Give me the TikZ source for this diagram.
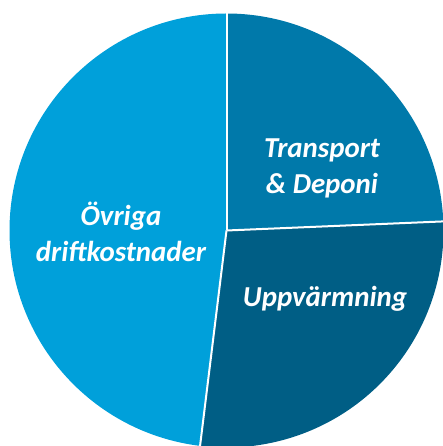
\documentclass[tikz,border=0pt]{standalone}
\usepackage{fontspec}
\setmainfont{Carlito}
\definecolor{cOvr}{RGB}{0,160,218}
\definecolor{cTra}{RGB}{0,121,170}
\definecolor{cUpp}{RGB}{0,94,133}
\tikzset{
  slice/.style={draw=white, line width=2bp, line join=round},
  lbl/.style={text=white, font=\fontsize{29}{36}\selectfont\bfseries\itshape, align=center, inner sep=0pt}
}
\begin{document}
\begin{tikzpicture}[x=1bp,y=1bp]
\useasboundingbox (0,0) rectangle (443,446);
\clip (0,0) rectangle (443,446);
\coordinate (c) at (226.5,215.5);
\def\R{217}
\fill[cOvr] (c) -- ++(90:\R) arc[start angle=90, end angle=263, radius=\R] -- cycle;
\fill[cTra] (c) -- ++(2.4:\R) arc[start angle=2.4, end angle=90, radius=\R] -- cycle;
\fill[cUpp] (c) -- ++(-97:\R) arc[start angle=-97, end angle=2.4, radius=\R] -- cycle;
\draw[slice] (c) -- ++(90:\R+2);
\draw[slice] (c) -- ++(2.4:\R+2);
\draw[slice] (c) -- ++(-97:\R+2);
\node[lbl] (tra) at (322,278) {Transport\\\& Deponi};
\node[lbl] (ovr) at (121,214) {Övriga\\driftkostnader};
\node[lbl] (upp) at (325,147.5) {Uppvärmning};
\end{tikzpicture}
\end{document}
